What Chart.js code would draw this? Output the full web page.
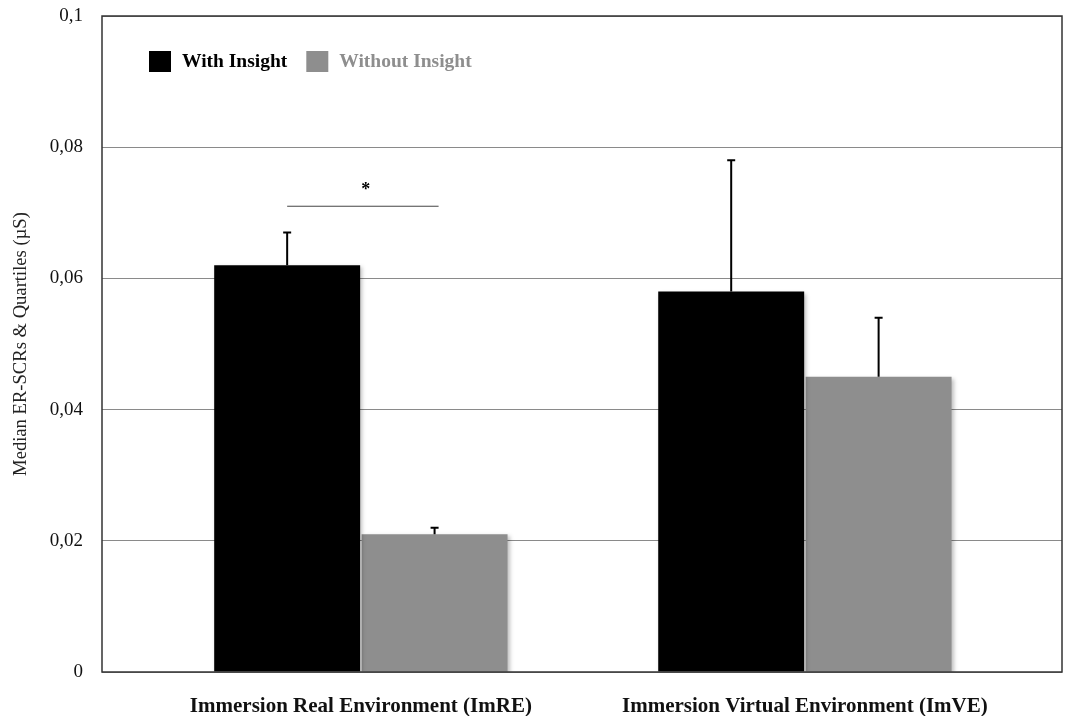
<!DOCTYPE html>
<html>
<head>
<meta charset="utf-8">
<script src="https://cdn.jsdelivr.net/npm/chart.js@4.4.1/dist/chart.umd.min.js"></script>
<style>
  html, body { margin: 0; padding: 0; background: #fff; }
  #wrap { width: 1068px; height: 716px; }
</style>
</head>
<body>
<div id="wrap"><canvas id="myChart"></canvas></div>
<script>
const categories = ['Immersion Real Environment (ImRE)', 'Immersion Virtual Environment (ImVE)'];
const withInsight = [0.062, 0.058];
const withoutInsight = [0.021, 0.045];
const withInsightQ3 = [0.067, 0.078];
const withoutInsightQ3 = [0.022, 0.054];
const yTicks = [0, 0.02, 0.04, 0.06, 0.08, 0.1];
const sigLevel = 0.071;

const serif = '"Liberation Serif", "Times New Roman", serif';

function fmt(v) {
  return v === 0 ? '0' : String(+v.toFixed(2)).replace('.', ',');
}

// upper quartile whiskers
const whiskers = {
  id: 'whiskers',
  afterDatasetsDraw(chart) {
    const ctx = chart.ctx;
    const y = chart.scales.y;
    const tops = [withInsightQ3, withoutInsightQ3];
    ctx.save();
    ctx.strokeStyle = '#000';
    ctx.lineWidth = 2;
    chart.data.datasets.forEach((ds, i) => {
      chart.getDatasetMeta(i).data.forEach((bar, j) => {
        const yt = y.getPixelForValue(tops[i][j]);
        ctx.beginPath();
        ctx.moveTo(bar.x, bar.y);
        ctx.lineTo(bar.x, yt);
        ctx.moveTo(bar.x - 4, yt);
        ctx.lineTo(bar.x + 4, yt);
        ctx.stroke();
      });
    });
    // significance line between ImRE bars
    const b0 = chart.getDatasetMeta(0).data[0];
    const b1 = chart.getDatasetMeta(1).data[0];
    const ys = y.getPixelForValue(sigLevel);
    ctx.strokeStyle = '#444';
    ctx.lineWidth = 1;
    ctx.beginPath();
    ctx.moveTo(b0.x, ys);
    ctx.lineTo(b1.x + 4, ys);
    ctx.stroke();
    ctx.fillStyle = '#000';
    ctx.font = 'bold 18px ' + serif;
    ctx.textAlign = 'center';
    ctx.textBaseline = 'middle';
    ctx.fillText('*', (b0.x + b1.x) / 2 + 5, ys - 16);
    ctx.restore();
  }
};

// bar shadows
const shadows = {
  id: 'shadows',
  beforeDatasetsDraw(chart) {
    const ctx = chart.ctx;
    ctx.save();
    ctx.shadowColor = 'rgba(0,0,0,0.25)';
    ctx.shadowBlur = 4;
    ctx.shadowOffsetX = 2;
    ctx.shadowOffsetY = 2;
  },
  afterDatasetsDraw(chart) {
    chart.ctx.restore();
  }
};

// frame + legend inside the plot
const frame = {
  id: 'frame',
  afterDraw(chart) {
    const ctx = chart.ctx;
    const a = chart.chartArea;
    ctx.save();
    ctx.strokeStyle = '#333';
    ctx.lineWidth = 1.5;
    ctx.strokeRect(a.left, a.top, a.right - a.left, a.bottom - a.top);
    ctx.font = 'bold 19.5px ' + serif;
    ctx.textBaseline = 'middle';
    let x = a.left + 47;
    const yy = a.top + 46;
    chart.data.datasets.forEach(ds => {
      ctx.fillStyle = ds.backgroundColor;
      ctx.fillRect(x, yy - 11, 22, 21);
      ctx.textAlign = 'left';
      ctx.fillText(ds.label, x + 33, yy);
      x += 33 + ctx.measureText(ds.label).width + 19;
    });
    ctx.restore();
  }
};

new Chart(document.getElementById('myChart').getContext('2d'), {
  type: 'bar',
  data: {
    datasets: [
      {
        label: 'With Insight',
        data: withInsight.map((v, i) => ({ x: i, y: v })),
        backgroundColor: '#000000'
      },
      {
        label: 'Without Insight',
        data: withoutInsight.map((v, i) => ({ x: i, y: v })),
        backgroundColor: '#8e8e8e'
      }
    ]
  },
  options: {
    responsive: true,
    maintainAspectRatio: false,
    animation: false,
    categoryPercentage: 0.664,
    barPercentage: 0.99,
    layout: { padding: { top: 16, right: 6, bottom: 0, left: 0 } },
    plugins: {
      legend: { display: false },
      tooltip: { enabled: false }
    },
    scales: {
      x: {
        type: 'linear',
        offset: false,
        min: -0.583,
        max: 1.579,
        afterBuildTicks(scale) {
          scale.ticks = categories.map((c, i) => ({ value: i }));
        },
        afterFit(scale) {
          scale.height = 44;
          scale.paddingLeft = 0;
          scale.paddingRight = 0;
        },
        grid: { display: false, drawTicks: false },
        border: { display: false },
        ticks: {
          autoSkip: false,
          maxRotation: 0,
          padding: 22,
          color: '#111',
          font: { family: serif, size: 21, weight: 'bold' },
          callback: (v) => categories[v]
        }
      },
      y: {
        min: 0,
        max: 0.1,
        afterBuildTicks(scale) {
          scale.ticks = yTicks.map(v => ({ value: v }));
        },
        afterFit(scale) {
          scale.width = 102;
          scale.paddingTop = 0;
          scale.paddingBottom = 0;
        },
        grid: { color: '#8a8a8a', lineWidth: 1, drawTicks: false },
        border: { display: false },
        ticks: {
          padding: 19,
          color: '#111',
          font: { family: serif, size: 19 },
          callback: (v) => fmt(v)
        },
        title: {
          display: true,
          text: 'Median ER-SCRs & Quartiles (µS)',
          color: '#222',
          padding: { top: 10, bottom: 0 },
          font: { family: serif, size: 18.6 }
        }
      }
    }
  },
  plugins: [shadows, whiskers, frame]
});
</script>
</body>
</html>
